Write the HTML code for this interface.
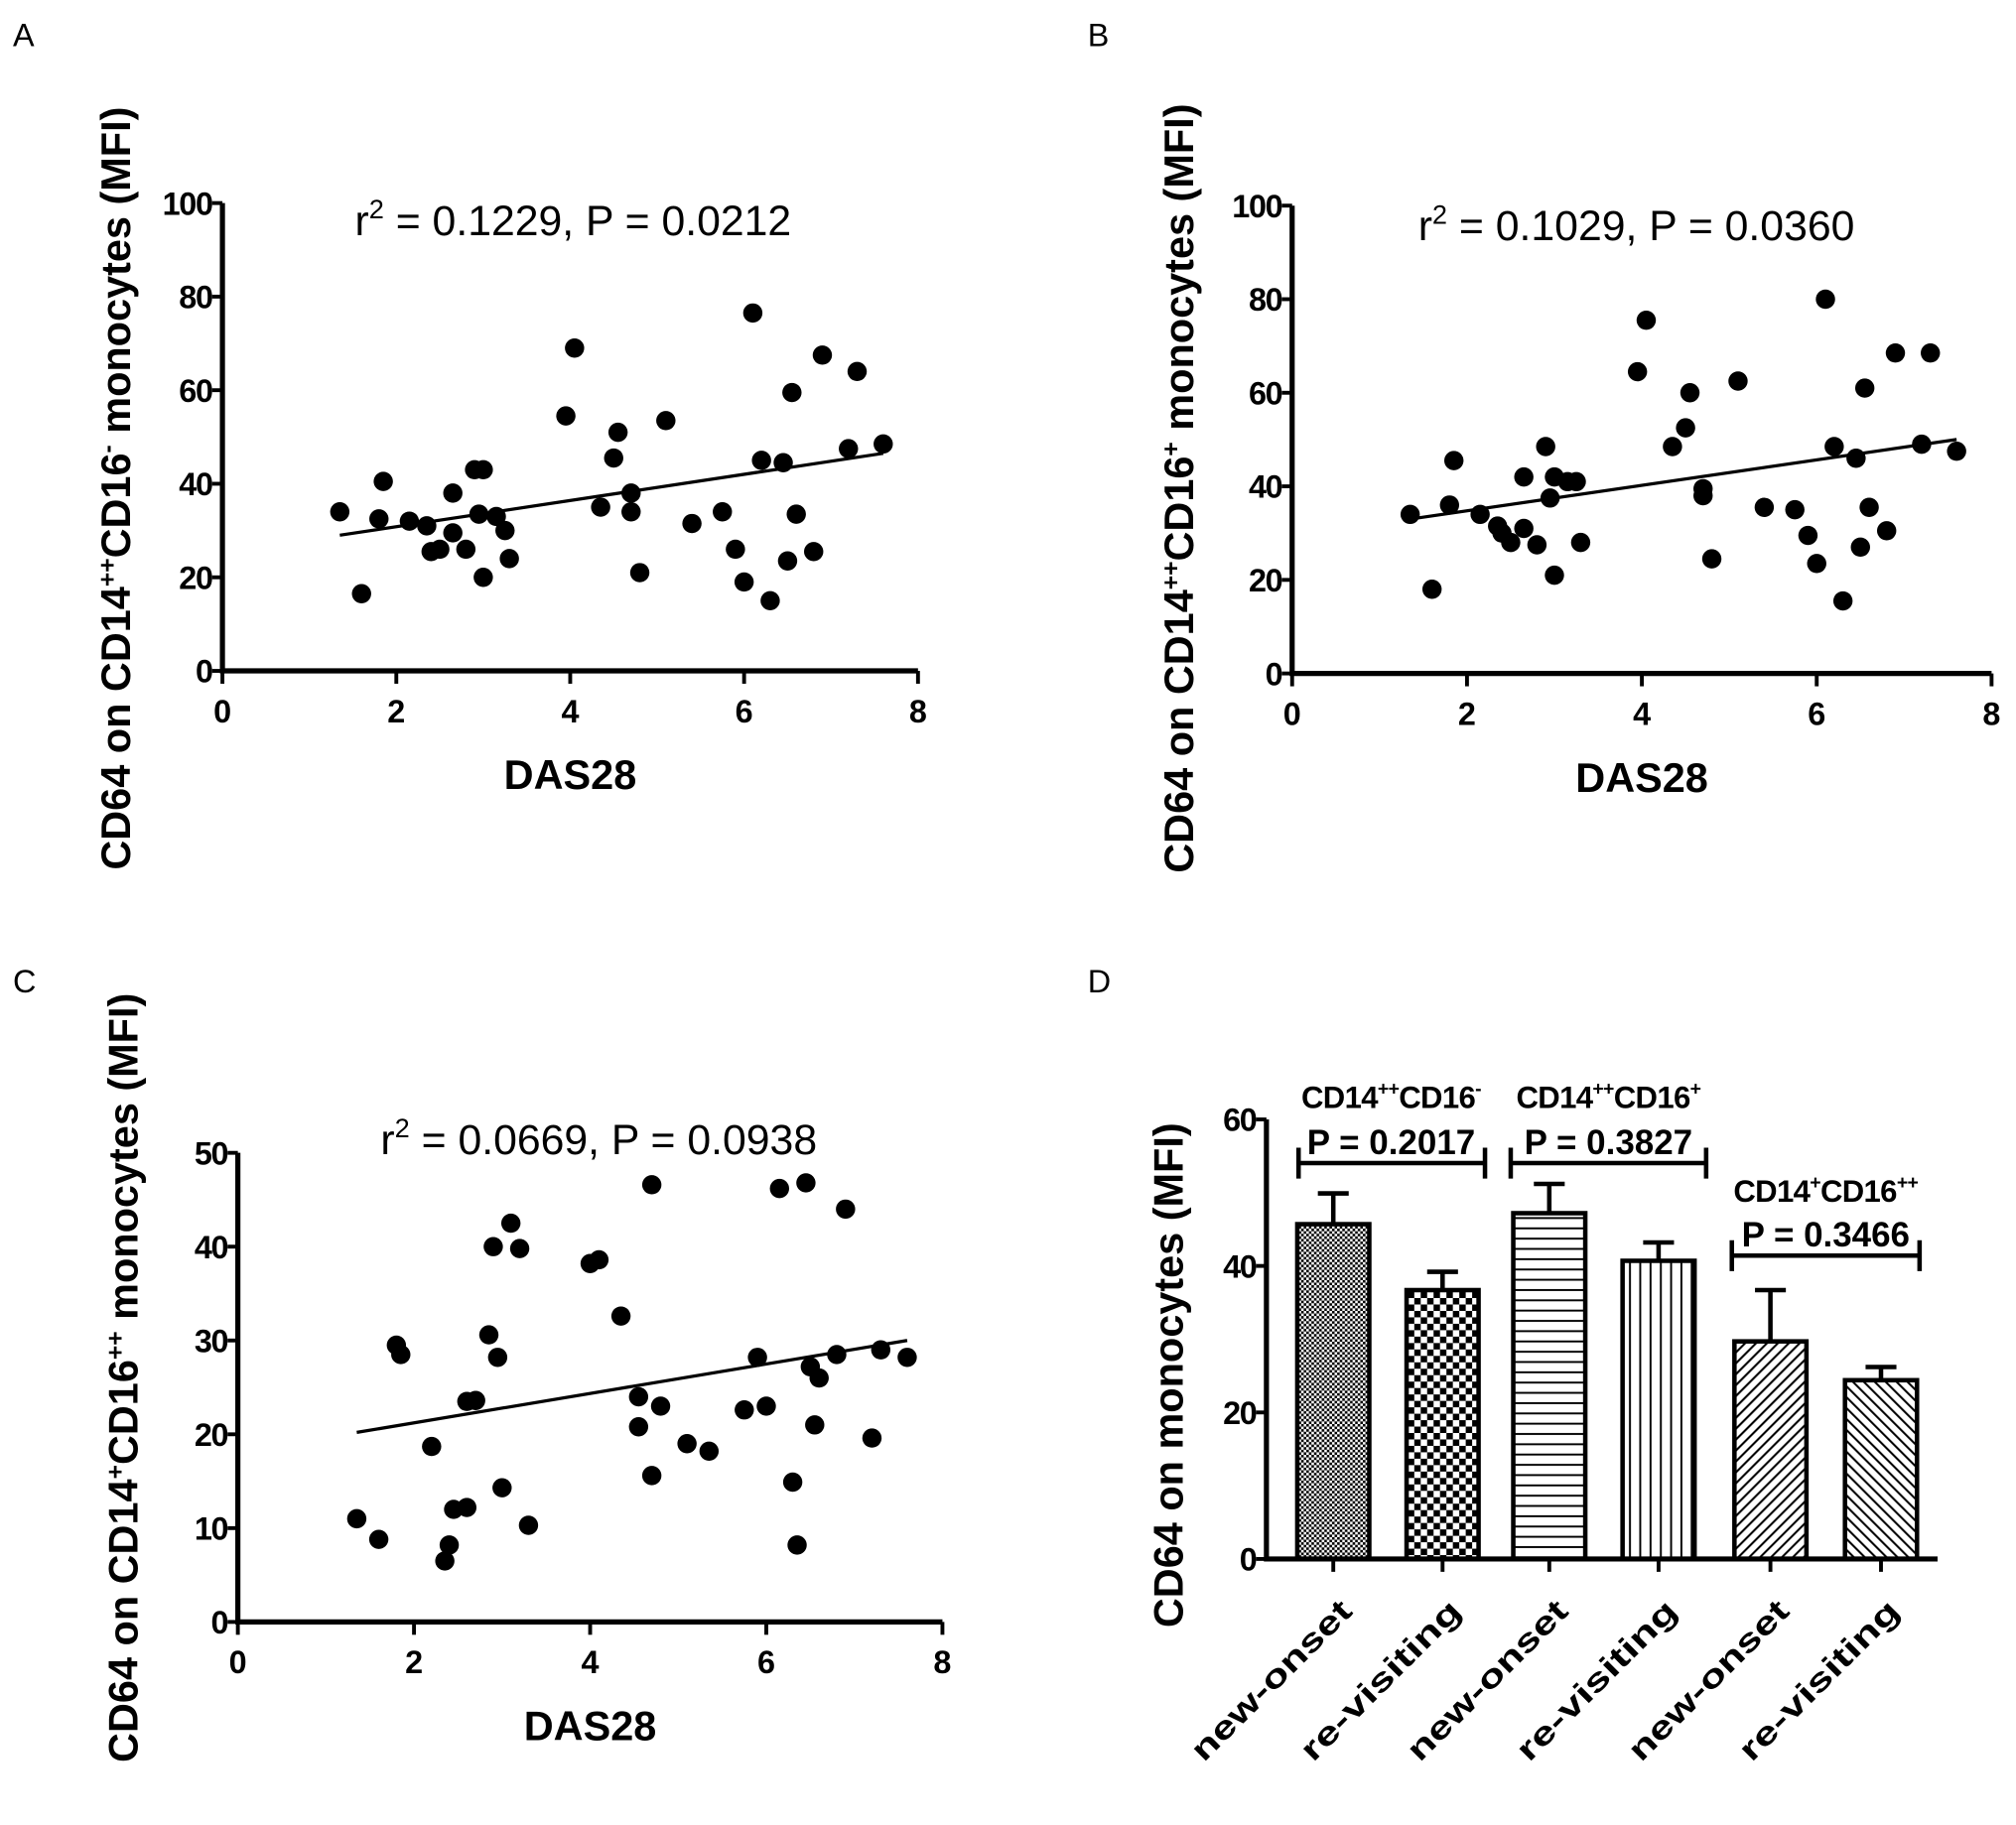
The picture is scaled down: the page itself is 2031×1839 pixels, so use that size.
<!DOCTYPE html>
<html><head><meta charset="utf-8"><style>
html,body{margin:0;padding:0;background:#fff}
svg{display:block}
text{font-family:"Liberation Sans",Arial,sans-serif;fill:#000}
.tk{font-weight:bold;font-size:25px}
.ttl{font-weight:bold;font-size:32px}
</style></head><body>
<svg id="fig" width="2031" height="1839" viewBox="0 0 1568 1420" preserveAspectRatio="none" xmlns="http://www.w3.org/2000/svg">
<defs>
<pattern id="p1" width="4" height="4" patternUnits="userSpaceOnUse"><rect width="4" height="4" fill="#fff"/><rect width="2" height="2" fill="#000"/><rect x="2" y="2" width="2" height="2" fill="#000"/></pattern>
<pattern id="p2" width="10" height="10" patternUnits="userSpaceOnUse"><rect width="10" height="10" fill="#fff"/><rect width="5" height="5" fill="#000"/><rect x="5" y="5" width="5" height="5" fill="#000"/></pattern>
<pattern id="p3" width="8" height="8" patternUnits="userSpaceOnUse"><rect width="8" height="8" fill="#fff"/><rect y="3" width="8" height="1.5" fill="#000"/></pattern>
<pattern id="p4" width="8" height="8" patternUnits="userSpaceOnUse"><rect width="8" height="8" fill="#fff"/><rect x="3" width="1.5" height="8" fill="#000"/></pattern>
<pattern id="p5" width="6" height="6" patternUnits="userSpaceOnUse" patternTransform="rotate(45)"><rect width="6" height="6" fill="#fff"/><rect width="1.6" height="6" fill="#000"/></pattern>
<pattern id="p6" width="6" height="6" patternUnits="userSpaceOnUse" patternTransform="rotate(-45)"><rect width="6" height="6" fill="#fff"/><rect width="1.6" height="6" fill="#000"/></pattern>
</defs>
<g id="root"></g>
</svg>
<script>
// Panel A data
const aX=[1.35,1.6,1.8,1.85,2.15,2.35,2.4,2.5,2.65,2.65,2.8,2.9,2.95,3.0,3.0,3.15,3.25,3.3,3.95,4.05,4.35,4.5,4.55,4.7,4.7,4.8,5.1,5.4,5.75,5.9,6.0,6.1,6.2,6.3,6.45,6.5,6.55,6.6,6.8,6.9,7.2,7.3,7.6];
const aY=[34,16.5,32.5,40.5,32,31,25.5,26,29.5,38,26,43,33.5,20,43,33,30,24,54.5,69,35,45.5,51,38,34,21,53.5,31.5,34,26,19,76.5,45,15,44.5,23.5,59.5,33.5,25.5,67.5,47.5,64,48.5];
const aLine=[[1.35,29],[7.6,46.5]];
// Panel B data
const bX=aX.slice();
const bY=[34,18,36,45.5,34,31.5,30,28,31,42,27.5,48.5,37.5,21,42,41,41,28,64.5,75.5,48.5,52.5,60,39.5,38,24.5,62.5,35.5,35,29.5,23.5,80,48.5,15.5,46,27,61,35.5,30.5,68.5,49,68.5,47.5];
const bLine=[[1.35,33],[7.6,50]];
// Panel C data
const cX=[1.35,1.6,1.8,1.85,2.2,2.35,2.4,2.45,2.6,2.6,2.7,2.85,2.9,2.95,3.0,3.1,3.2,3.3,4.0,4.1,4.35,4.55,4.55,4.7,4.7,4.8,5.1,5.35,5.75,5.9,6.0,6.15,6.3,6.35,6.45,6.5,6.55,6.6,6.8,6.9,7.2,7.3,7.6];
const cY=[11,8.8,29.5,28.5,18.7,6.5,8.2,12,12.2,23.5,23.6,30.6,40,28.2,14.3,42.5,39.8,10.3,38.2,38.6,32.6,24,20.8,15.6,46.6,23,19,18.2,22.6,28.2,23,46.2,14.9,8.2,46.8,27.2,21,26,28.5,44,19.6,29,28.2];
const cLine=[[1.35,20.2],[7.6,30]];
// Panel D data
const dCats=["new-onset","re-visiting","new-onset","re-visiting","new-onset","re-visiting"];
const dMeans=[45.7,36.7,47.2,40.7,29.7,24.4];
const dErr=[4.2,2.5,4.0,2.5,7.0,1.8];
const xTicks=[0,2,4,6,8];

const NS="http://www.w3.org/2000/svg";
const root=document.getElementById('root');
function el(tag,attrs,parent,txt){const e=document.createElementNS(NS,tag);for(const k in attrs)e.setAttribute(k,attrs[k]);if(txt!==undefined)e.textContent=txt;(parent||root).appendChild(e);return e;}

function scatter(p){
  const g=el('g',{});
  
  
  const sx=v=>p.x0+(p.x1-p.x0)*v/8, sy=v=>p.y0-(p.y0-p.y1)*v/p.ymax;
  const ax=el('path',{d:`M${p.x0} ${p.y1}V${p.y0}H${p.x1}`,stroke:'#000','stroke-width':4,fill:'none'},g);
  
  
  xTicks.forEach(t=>{
    el('line',{x1:sx(t),x2:sx(t),y1:p.y0,y2:p.y0+10,stroke:'#000','stroke-width':3},g);
    const tl=el('text',{x:sx(t),y:p.y0+40,'text-anchor':'middle',class:'tk'},g,t);
    
    
  });
  p.yt.forEach(t=>{
    el('line',{x1:p.x0-8,x2:p.x0,y1:sy(t),y2:sy(t),stroke:'#000','stroke-width':3},g);
    const tl=el('text',{x:p.x0-8,y:sy(t)+9,'text-anchor':'end',class:'tk','letter-spacing':'-1'},g,t);
    
    
  });
  p.xs.forEach((v,i)=>{
    const c=el('circle',{cx:sx(v),cy:sy(p.ys[i]),r:7.5,fill:'#000'},g);
    
    
  });
  const ln=el('line',{x1:sx(p.line[0][0]),y1:sy(p.line[0][1]),x2:sx(p.line[1][0]),y2:sy(p.line[1][1]),stroke:'#000','stroke-width':2.5},g);
  
  
  const st=el('text',{x:p.statX,y:p.statY,'font-size':33},g);
  
  
  st.innerHTML='r<tspan dy="-13" font-size="21">2</tspan><tspan dy="13"> = '+p.stat+'</tspan>';
  const xt=el('text',{x:(p.x0+p.x1)/2,y:p.y0+92,'text-anchor':'middle',class:'ttl'},g,'DAS28');
  
  
  const yt=el('text',{transform:`translate(${p.tx},${p.tc}) rotate(-90)`,'text-anchor':'middle',class:'ttl','font-size':28},g);
  
  
  yt.innerHTML='CD64 on CD14<tspan dy="-11" font-size="19">'+p.s1+'</tspan><tspan dy="11">CD16</tspan><tspan dy="-11" font-size="19">'+p.s2+'</tspan><tspan dy="11"> monocytes (MFI)</tspan>';
  const pl=el('text',{x:p.lx,y:p.ly,'font-size':25},g,p.label);
  
  
}
scatter({name:'panel-a',x0:173,x1:714,y0:522,y1:158,ymax:100,yt:[0,20,40,60,80,100],xs:aX,ys:aY,line:aLine,stat:'0.1229, P = 0.0212',statX:276,statY:183,tx:101,tc:380,s1:'++',s2:'-',label:'A',lx:10,ly:36});
scatter({name:'panel-b',x0:1005,x1:1549,y0:524,y1:160,ymax:100,yt:[0,20,40,60,80,100],xs:bX,ys:bY,line:bLine,stat:'0.1029, P = 0.0360',statX:1103,statY:187,tx:928,tc:380,s1:'++',s2:'+',label:'B',lx:846,ly:36});
scatter({name:'panel-c',x0:185,x1:733,y0:1262,y1:897,ymax:50,yt:[0,10,20,30,40,50],xs:cX,ys:cY,line:cLine,stat:'0.0669, P = 0.0938',statX:296,statY:898,tx:107,tc:1072,s1:'+',s2:'++',label:'C',lx:10,ly:772});

// Panel D
(function(){
  const g=el('g',{});
  
  
  const y0=1213,y1=871,x0=985,x1=1507;
  const sy=v=>y0-(y0-y1)*v/60;
  const centers=[1037,1122,1205,1290,1377,1463], bw=56;
  const pats=['p1','p2','p3','p4','p5','p6'];
  dMeans.forEach((m,i)=>{
    const cx=centers[i];
    const eb=el('path',{d:`M${cx} ${sy(m)}V${sy(m+dErr[i])}M${cx-12} ${sy(m+dErr[i])}H${cx+12}`,stroke:'#000','stroke-width':3.5,fill:'none'},g);
    
    
    const r=el('rect',{x:cx-bw/2,y:sy(m),width:bw,height:y0-sy(m),fill:`url(#${pats[i]})`,stroke:'#000','stroke-width':3.5},g);
    
    
    el('line',{x1:cx,x2:cx,y1:y0,y2:y0+10,stroke:'#000','stroke-width':3},g);
    const t=el('text',{transform:`translate(${cx+16},${y0+42}) rotate(-45)`,'text-anchor':'end',class:'tk','font-size':30,textLength:165,lengthAdjust:'spacingAndGlyphs'},g,dCats[i]);
    
    
  });
  const ax=el('path',{d:`M${x0} ${y1}V${y0}H${x1}`,stroke:'#000','stroke-width':4,fill:'none'},g);
  
  
  [0,20,40,60].forEach(t=>{
    el('line',{x1:x0-8,x2:x0,y1:sy(t),y2:sy(t),stroke:'#000','stroke-width':3},g);
    const tl=el('text',{x:x0-8,y:sy(t)+9,'text-anchor':'end',class:'tk','letter-spacing':'-1'},g,t);
    
    
  });
  const brs=[[1010,1155,905,'++','-','0.2017',862,1082],[1175,1327,905,'++','+','0.3827',862,1251],[1347,1493,977,'+','++','0.3466',935,1420]];
  brs.forEach(b=>{
    const p=el('path',{d:`M${b[0]} ${b[2]-12}V${b[2]+12}M${b[0]} ${b[2]}H${b[1]}M${b[1]} ${b[2]-12}V${b[2]+12}`,stroke:'#000','stroke-width':3.5,fill:'none'},g);
    
    
    const t1=el('text',{x:b[7],y:b[6],'text-anchor':'middle','font-weight':'bold','font-size':24,'letter-spacing':'-0.5'},g);
    
    
    t1.innerHTML='CD14<tspan dy="-10" font-size="15">'+b[3]+'</tspan><tspan dy="10">CD16</tspan><tspan dy="-10" font-size="15">'+b[4]+'</tspan>';
    const t2=el('text',{x:b[7],y:b[2]-7,'text-anchor':'middle','font-weight':'bold','font-size':27},g,'P = '+b[5]);
    
    
  });
  const yt=el('text',{transform:'translate(920,1070) rotate(-90)','text-anchor':'middle',class:'ttl','font-size':29},g,'CD64 on monocytes (MFI)');
  
  
  const pl=el('text',{x:846,y:772,'font-size':25},g,'D');
  
  
})();
</script>
</body></html>
